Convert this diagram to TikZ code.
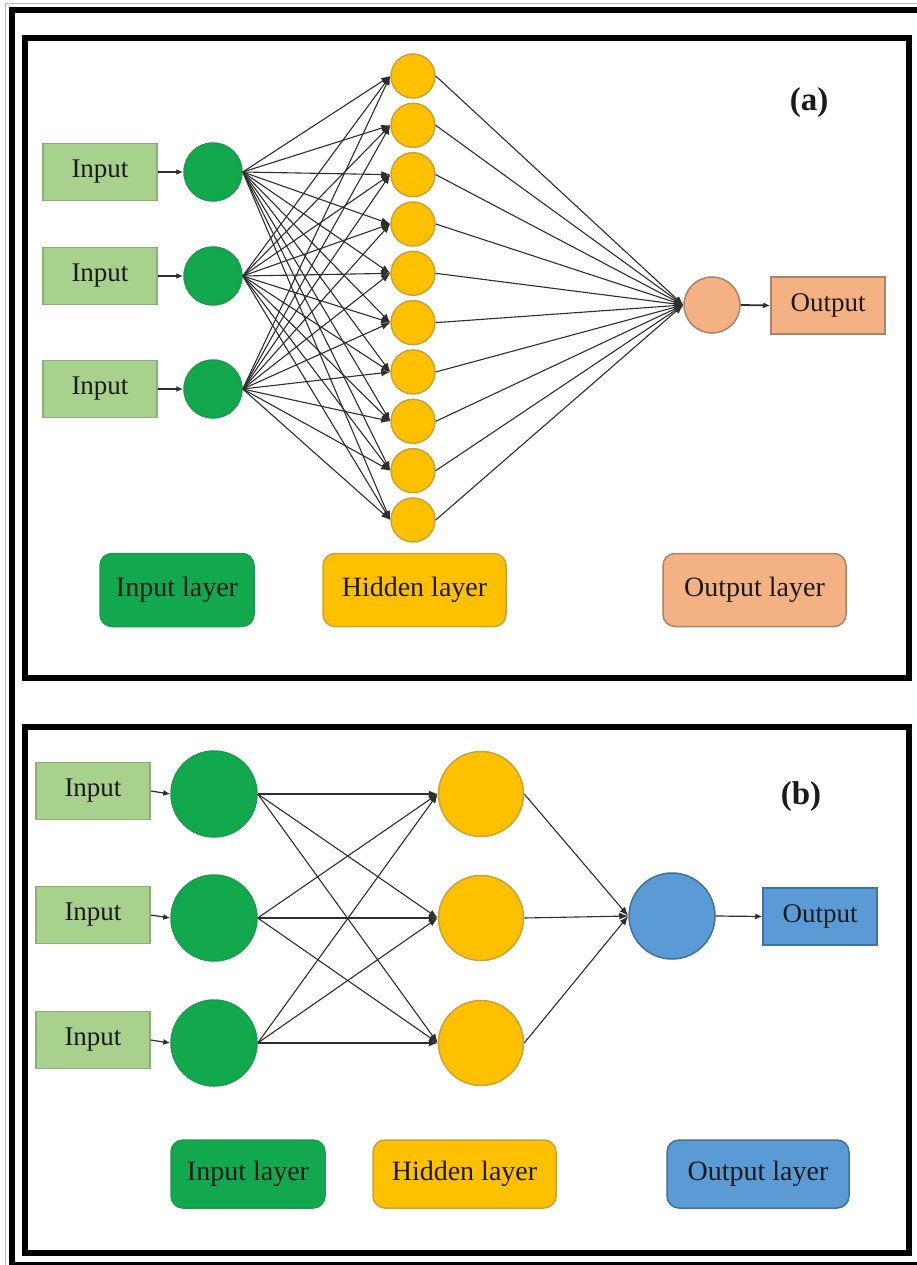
\documentclass[tikz,border=0pt]{standalone}
\usepackage{fontspec}
\setmainfont{Liberation Serif}
\usetikzlibrary{arrows.meta}
\definecolor{inboxc}{HTML}{A9D18E}
\definecolor{inboxd}{HTML}{8CAE78}
\definecolor{gnc}{HTML}{12A84E}
\definecolor{gnd}{HTML}{1E9A50}
\definecolor{ylc}{HTML}{FFC000}
\definecolor{yld}{HTML}{C9A336}
\definecolor{pcc}{HTML}{F4B183}
\definecolor{pcd}{HTML}{A88468}
\definecolor{blc}{HTML}{5B9BD5}
\definecolor{bld}{HTML}{41719C}
\definecolor{lnc}{HTML}{2E2E2E}
\definecolor{txc}{HTML}{1A1A1A}
\tikzset{
  frame/.style={draw=black, line width=6pt},
  inbox/.style={draw=inboxd, fill=inboxc, line width=1.5pt, minimum width=114pt, minimum height=57pt, inner sep=0pt, text=txc, font=\fontsize{27}{30}\selectfont},
  outbox/.style={inbox, draw=#1d, fill=#1c},
  neuron/.style={circle, inner sep=0pt, line width=1.5pt, draw=#1d, fill=#1c},
  layerbox/.style={rounded corners=12pt, draw=#1d, fill=#1c, line width=1.5pt, minimum height=73pt, inner sep=0pt, text=txc, font=\fontsize{28}{30}\selectfont},
  edge/.style={draw=lnc, line width=1.1pt, -{Latex[length=9pt,width=7pt]}},
  inarrow/.style={draw=lnc, line width=1.8pt, -{Latex[length=7pt,width=6pt]}},
  panellabel/.style={font=\bfseries\fontsize{33}{36}\selectfont, text=txc, inner sep=0pt}
}
\begin{document}
\begin{tikzpicture}[x=1pt,y=-1pt]
\useasboundingbox (0,0) rectangle (917,1265);
\fill[white] (0,0) rectangle (917,1265);
% outer frames
\draw[gray!55, line width=1pt] (5,4) rectangle (930,1275);
\draw[frame] (12,10) rectangle (930,1265);
\draw[frame] (25,38) rectangle (909,678);
\draw[frame] (25,727) rectangle (909,1253);

% ---------------- panel (a) ----------------
\node[panellabel] (la) at (809,103) {(a)};
\foreach \k/\y in {1/172,2/276,3/389}{
  \node[inbox] (ia\k) at (100,\y) {Input};
  \node[neuron=gn, minimum size=58pt] (ga\k) at (213,\y) {};
  \draw[inarrow] (ia\k.east) -- (ga\k.west);
}
\foreach \j in {1,...,10}{
  \node[neuron=yl, minimum size=44pt] (ha\j) at (413,{76+49.33*(\j-1)}) {};
}
\node[neuron=pc, minimum size=56pt] (oa) at (712,305) {};
\node[outbox=pc] (ob) at (828,305.5) {Output};
\draw[inarrow] (oa.east) -- (ob.west);
\foreach \k in {1,2,3}{
  \foreach \j in {1,...,10}{
    \draw[edge] (ga\k.east) -- (ha\j.west);
  }
}
\foreach \j in {1,...,10}{
  \draw[edge] (ha\j.east) -- (oa.west);
}
\node[layerbox=gn, minimum width=154pt] (lia) at (177,590) {Input layer};
\node[layerbox=yl, minimum width=183pt] (lha) at (414.5,590) {Hidden layer};
\node[layerbox=pc, minimum width=183pt] (loa) at (754.5,590) {Output layer};

% ---------------- panel (b) ----------------
\node[panellabel] (lb) at (801,797) {(b)};
\foreach \k/\y in {1/794,2/918,3/1043}{
  \node[inbox] (ib\k) at (93,{\y-3}) {Input};
  \node[neuron=gn, minimum size=86pt] (gb\k) at (214,\y) {};
  \node[neuron=yl, minimum size=85pt] (hb\k) at (481,\y) {};
  \draw[inarrow, line width=1.2pt] (ib\k.east) -- (gb\k.west);
}
\node[neuron=bl, minimum size=86pt] (obc) at (672,916) {};
\node[outbox=bl] (obb) at (820,916.5) {Output};
\draw[inarrow, line width=1.2pt] (obc.east) -- (obb.west);
\foreach \k in {1,2,3}{
  \foreach \j in {1,2,3}{
    \draw[edge] (gb\k.east) -- (hb\j.west);
  }
  \draw[edge] (hb\k.east) -- (obc.west);
}
\node[layerbox=gn, minimum width=154pt, minimum height=68pt] (lib) at (248,1174) {Input layer};
\node[layerbox=yl, minimum width=183pt, minimum height=68pt] (lhb) at (464.5,1174) {Hidden layer};
\node[layerbox=bl, minimum width=182pt, minimum height=68pt] (lob) at (758,1174) {Output layer};
\end{tikzpicture}
\end{document}
